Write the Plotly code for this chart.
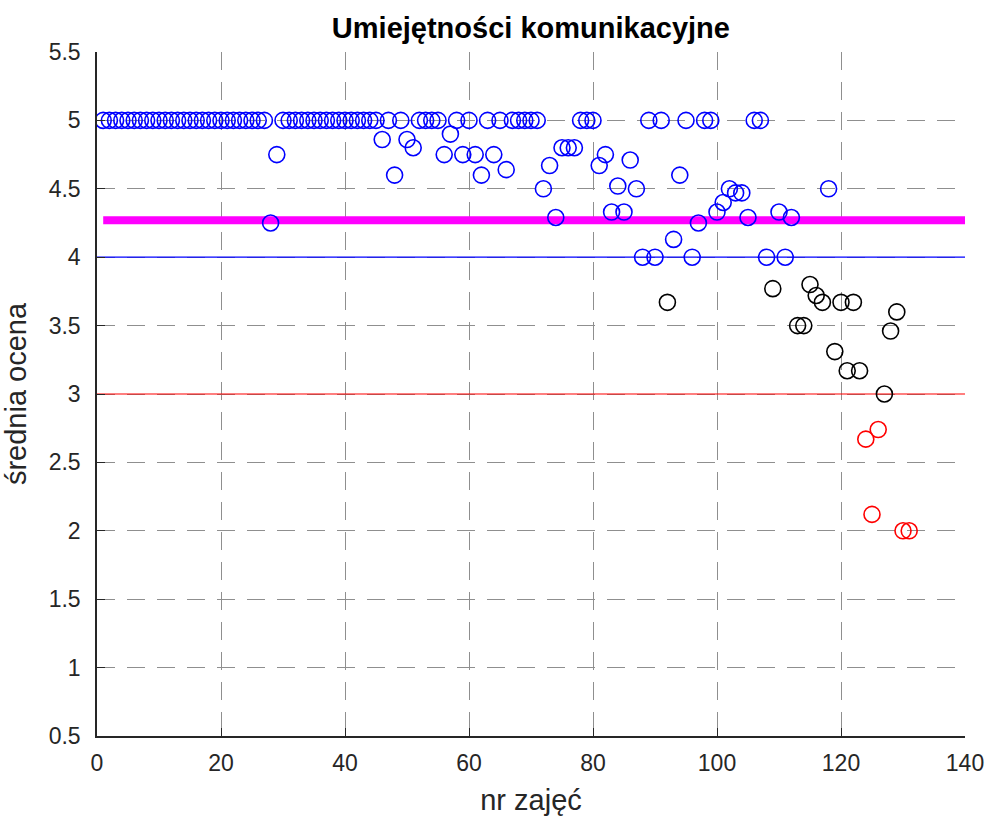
import plotly.graph_objects as go

# lesson number (nr zajęć)
lesson = list(range(1, 132))

# average rating (średnia ocena) per lesson
rating = [
    5, 5, 5, 5, 5, 5, 5, 5, 5, 5,          # 1-10
    5, 5, 5, 5, 5, 5, 5, 5, 5, 5,          # 11-20
    5, 5, 5, 5, 5, 5, 5, 4.25, 4.75, 5,    # 21-30
    5, 5, 5, 5, 5, 5, 5, 5, 5, 5,          # 31-40
    5, 5, 5, 5, 5, 4.86, 5, 4.6, 5, 4.86,  # 41-50
    4.8, 5, 5, 5, 5, 4.75, 4.9, 5, 4.75, 5,  # 51-60
    4.75, 4.6, 5, 4.75, 5, 4.64, 5, 5, 5, 5,  # 61-70
    5, 4.5, 4.67, 4.29, 4.8, 4.8, 4.8, 5, 5, 5,  # 71-80
    4.67, 4.75, 4.33, 4.52, 4.33, 4.71, 4.5, 4.0, 5, 4.0,  # 81-90
    5, 3.67, 4.13, 4.6, 5, 4.0, 4.25, 5, 5, 4.33,  # 91-100
    4.4, 4.5, 4.47, 4.47, 4.29, 5, 5, 4.0, 3.77, 4.33,  # 101-110
    4.0, 4.29, 3.5, 3.5, 3.8, 3.72, 3.67, 4.5, 3.31, 3.67,  # 111-120
    3.17, 3.67, 3.17, 2.67, 2.12, 2.74, 3.0, 3.46, 3.6, 2.0,  # 121-130
    2.0,                                    # 131
]

# reference levels
good_level = 4.0
pass_level = 3.0
overall_mean = 4.27

x_ticks = [0, 20, 40, 60, 80, 100, 120, 140]
y_ticks = [0.5, 1, 1.5, 2, 2.5, 3, 3.5, 4, 4.5, 5, 5.5]

BLUE = "#0000ff"
BLACK = "#000000"
RED = "#ff0000"
MAGENTA = "#ff00ff"

blue_x = [x for x, y in zip(lesson, rating) if y >= good_level]
blue_y = [y for y in rating if y >= good_level]
black_x = [x for x, y in zip(lesson, rating) if pass_level <= y < good_level]
black_y = [y for y in rating if pass_level <= y < good_level]
red_x = [x for x, y in zip(lesson, rating) if y < pass_level]
red_y = [y for y in rating if y < pass_level]

fig = go.Figure()

fig.add_trace(go.Scatter(x=[0, 140], y=[good_level, good_level], mode="lines",
                         line=dict(color=BLUE, width=1.2), hoverinfo="skip"))
fig.add_trace(go.Scatter(x=[0, 140], y=[pass_level, pass_level], mode="lines",
                         line=dict(color=RED, width=1.2), hoverinfo="skip"))
fig.add_trace(go.Scatter(x=[1, 140], y=[overall_mean, overall_mean], mode="lines",
                         line=dict(color=MAGENTA, width=8), hoverinfo="skip"))

marker_common = dict(symbol="circle-open", size=16)
fig.add_trace(go.Scatter(x=blue_x, y=blue_y, mode="markers",
                         marker=dict(**marker_common, color=BLUE, line=dict(width=1.6, color=BLUE))))
fig.add_trace(go.Scatter(x=black_x, y=black_y, mode="markers",
                         marker=dict(**marker_common, color=BLACK, line=dict(width=1.6, color=BLACK))))
fig.add_trace(go.Scatter(x=red_x, y=red_y, mode="markers",
                         marker=dict(**marker_common, color=RED, line=dict(width=1.6, color=RED))))

FONT = "Liberation Sans, Arial, sans-serif"
axis_font = dict(family=FONT, size=23, color="#262626")
title_font = dict(family=FONT, size=29, color="#262626")

fig.update_layout(
    width=985, height=817,
    margin=dict(l=97, r=20, t=52, b=81, autoexpand=False),
    paper_bgcolor="white", plot_bgcolor="white",
    showlegend=False,
    title=dict(text="<b>Umiejętności komunikacyjne</b>", x=0.539, xanchor="center",
               y=0.966, yanchor="middle",
               font=dict(family=FONT, size=29, color="#000000")),
    xaxis=dict(range=[0, 140], tickvals=x_ticks, ticktext=[str(v) for v in x_ticks],
               showline=True, linecolor="#262626", linewidth=1.5, mirror=False,
               ticks="inside", ticklen=8, tickwidth=1.2, tickcolor="#262626",
               ticklabelstandoff=6,
               showgrid=True, gridcolor="#8f8f8f", gridwidth=1.3, griddash="18px,12px",
               zeroline=False, tickfont=axis_font, automargin=False,
               title=dict(text="nr zajęć", font=title_font, standoff=14)),
    yaxis=dict(range=[0.5, 5.5], tickvals=y_ticks, ticktext=[("%g" % v) for v in y_ticks],
               showline=True, linecolor="#262626", linewidth=1.5, mirror=False,
               ticks="inside", ticklen=8, tickwidth=1.2, tickcolor="#262626",
               ticklabelstandoff=10,
               showgrid=True, gridcolor="#8f8f8f", gridwidth=1.3, griddash="18px,12px",
               zeroline=False, tickfont=axis_font, automargin=False,
               title=dict(text="średnia ocena", font=title_font, standoff=18)),
)

fig.write_html("out.html",
               config={"displayModeBar": False},
               post_script="document.body.style.margin='0';document.body.style.overflow='hidden';")
